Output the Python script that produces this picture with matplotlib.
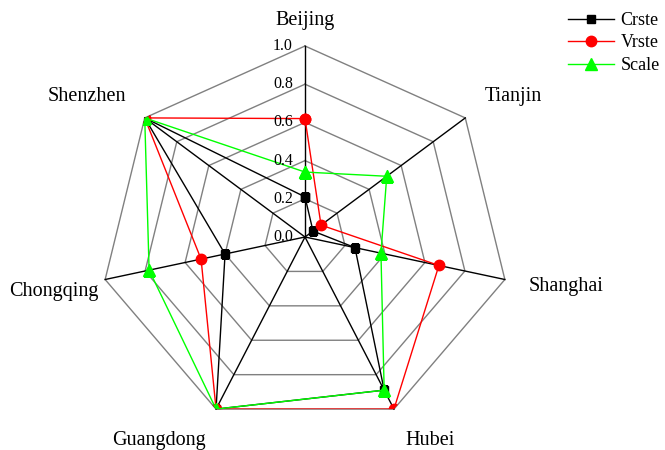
import numpy as np
import matplotlib
matplotlib.use("Agg")
import matplotlib.pyplot as plt
from matplotlib.patches import Polygon

plt.rcParams['font.family'] = ['Liberation Serif', 'DejaVu Serif']

categories = ["Beijing", "Tianjin", "Shanghai", "Hubei", "Guangdong", "Chongqing", "Shenzhen"]
crste = [0.21, 0.05, 0.25, 0.89, 1.0, 0.40, 1.0]
vrste = [0.62, 0.10, 0.67, 1.0, 1.0, 0.52, 1.0]
scale = [0.34, 0.51, 0.38, 0.89, 1.0, 0.78, 1.0]
levels = [0.0, 0.2, 0.4, 0.6, 0.8, 1.0]
level_labels = ["0.0", "0.2", "0.4", "0.6", "0.8", "1.0"]

n = len(categories)
theta = np.arange(n) * 2 * np.pi / n  # clockwise from top


def xy(r):
    r = np.asarray(r, dtype=float)
    return r * np.sin(theta), r * np.cos(theta)


def closed(a):
    return np.append(a, a[0])


W, H = 665, 450
cx, cy = 305, 237
rx, ry = 205, 191

fig = plt.figure(figsize=(W / 100, H / 100), dpi=100)
ax = fig.add_axes([0, 0, 1, 1])
ax.set_xlim(-cx / rx, (W - cx) / rx)
ax.set_ylim(-(H - cy) / ry, cy / ry)
ax.axis('off')

# grid polygons
for lv in levels[1:]:
    gx, gy = xy(np.full(n, lv))
    ax.plot(closed(gx), closed(gy), color='#808080', lw=1.0, zorder=1)
# spokes
ox, oy = xy(np.ones(n))
for i in range(n):
    ax.plot([0, ox[i]], [0, oy[i]], color='black', lw=1.0, zorder=1.5)

# clip region = outer polygon
clip = Polygon(np.column_stack([ox, oy]), closed=True, transform=ax.transData,
               facecolor='none', edgecolor='none')
ax.add_patch(clip)

# radial labels
for lv, lab in zip(levels, level_labels):
    ax.text(-12 / rx, lv, lab, ha='right', va='center', fontsize=11.5, zorder=5)

series = [
    ("Crste", crste, 'black', 's', 6),
    ("Vrste", vrste, '#ff0000', 'o', 7.5),
    ("Scale", scale, '#00ff00', '^', 8.5),
]
for k, (name, vals, col, mk, ms) in enumerate(series):
    sx, sy = xy(vals)
    ln, = ax.plot(closed(sx), closed(sy), color=col, lw=1.0, marker=mk, markersize=ms,
                  markerfacecolor=col, markeredgecolor=col, label=name, zorder=2 + k)
    ln.set_clip_path(clip)

# category labels (layout positions in pixels)
label_pos = [
    (305, 25, 'center'),
    (485, 101, 'left'),
    (529, 291, 'left'),
    (405, 445, 'left'),
    (206, 445, 'right'),
    (99, 296, 'right'),
    (126, 101, 'right'),
]
for cat, (px, py, ha) in zip(categories, label_pos):
    ax.text((px - cx) / rx, (cy - py) / ry, cat, ha=ha, va='baseline', fontsize=14.5)

ax.legend(loc='upper left', bbox_to_anchor=(568 / W, 1 - 12 / H), frameon=False,
          fontsize=13, borderpad=0, borderaxespad=0, handlelength=2.55,
          handletextpad=0.35, labelspacing=0.3)

fig.savefig('out.png', dpi=100)
